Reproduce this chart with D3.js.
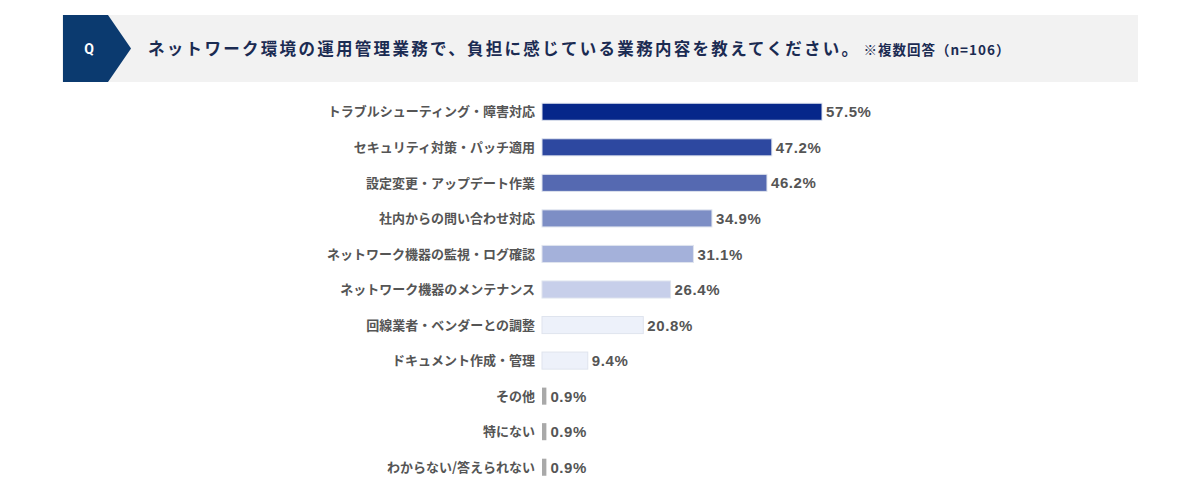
<!DOCTYPE html>
<html lang="ja">
<head>
<meta charset="utf-8">
<script src="https://d3js.org/d3.v7.min.js"></script>
<style>
  body { margin: 0; background: #fff; }
  svg { display: block; }
</style>
</head>
<body>
<div id="chart"></div>
<script>
  // data
  var categories = [
    "トラブルシューティング・障害対応",
    "セキュリティ対策・パッチ適用",
    "設定変更・アップデート作業",
    "社内からの問い合わせ対応",
    "ネットワーク機器の監視・ログ確認",
    "ネットワーク機器のメンテナンス",
    "回線業者・ベンダーとの調整",
    "ドキュメント作成・管理",
    "その他",
    "特にない",
    "わからない/答えられない"
  ];
  var values = [57.5, 47.2, 46.2, 34.9, 31.1, 26.4, 20.8, 9.4, 0.9, 0.9, 0.9];
  var barColors = ["#06278a", "#2d48a0", "#5569b1", "#7d8ec5", "#a4b1da", "#c7cfea",
                   "#edf1fa", "#edf1fa", "#a9a9a9", "#a9a9a9", "#a9a9a9"];
  var titleMain = "ネットワーク環境の運用管理業務で、負担に感じている業務内容を教えてください。";
  var titleNote = "※複数回答（n=106）";

  var W = 1200, H = 486;
  var svg = d3.select("#chart").append("svg")
    .attr("width", W).attr("height", H);

  // header band
  svg.append("rect")
    .attr("x", 62).attr("y", 15).attr("width", 1076).attr("height", 67)
    .attr("fill", "#f2f2f2");
  svg.append("path")
    .attr("d", "M63,15 L108,15 L131,48.5 L108,82 L63,82 Z")
    .attr("fill", "#0b3a6f");
  svg.append("text")
    .attr("x", 89).attr("y", 54)
    .attr("text-anchor", "middle")
    .attr("font-family", "Roboto, 'Liberation Sans', sans-serif")
    .attr("font-weight", 700).attr("font-size", 14)
    .attr("fill", "#fff")
    .text("Q");
  var title = svg.append("text")
    .attr("x", 148).attr("y", 54.5)
    .attr("font-family", "'Noto Sans CJK JP', sans-serif")
    .attr("font-weight", 700)
    .attr("fill", "#1b2b52");
  title.append("tspan")
    .attr("font-size", 16.5).attr("letter-spacing", 2.3)
    .text(titleMain);
  title.append("tspan")
    .attr("font-size", 13.5).attr("letter-spacing", 1)
    .attr("dx", 3)
    .text(titleNote);

  // scales
  var x = d3.scaleLinear().domain([0, 57.5]).range([542, 822]);
  var y = d3.scaleBand()
    .domain(categories)
    .range([94, 485])
    .paddingInner(0.52).paddingOuter(0.26);

  var rows = svg.append("g").selectAll("g")
    .data(categories)
    .enter().append("g");

  rows.append("rect")
    .attr("x", x(0))
    .attr("y", function (d) { return y(d); })
    .attr("width", function (d, i) { return x(values[i]) - x(0); })
    .attr("height", y.bandwidth())
    .attr("fill", function (d, i) { return barColors[i]; })
    .attr("stroke", function (d, i) { return i < 8 ? "#dfe4ee" : "none"; })
    .attr("stroke-width", 1);

  rows.append("text")
    .attr("x", 535)
    .attr("y", function (d) { return y(d) + y.bandwidth() / 2; })
    .attr("dy", "0.36em")
    .attr("text-anchor", "end")
    .attr("font-family", "'Noto Sans CJK JP', sans-serif")
    .attr("font-weight", 700).attr("font-size", 13)
    .attr("fill", "#555")
    .text(function (d) { return d; });

  rows.append("text")
    .attr("x", function (d, i) { return x(values[i]) + 4; })
    .attr("y", function (d) { return y(d) + y.bandwidth() / 2; })
    .attr("dy", "0.37em")
    .attr("font-family", "'Liberation Sans', Arial, sans-serif")
    .attr("font-weight", 700).attr("font-size", 15)
    .attr("letter-spacing", 0.6)
    .attr("fill", "#555")
    .text(function (d, i) { return values[i].toFixed(1) + "%"; });
</script>
</body>
</html>
